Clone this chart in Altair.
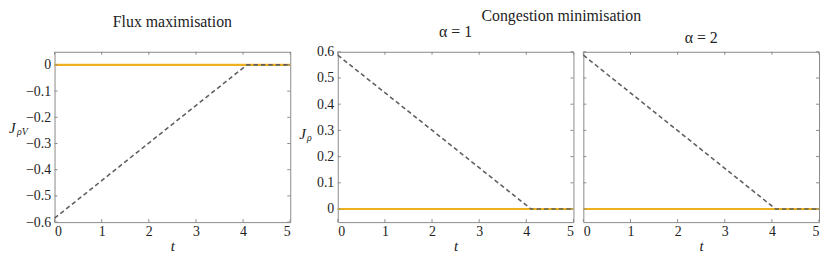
import altair as alt
import pandas as pd

# ---- data ----
t_ticks = [0, 1, 2, 3, 4, 5]
flux_yticks = [-0.6, -0.5, -0.4, -0.3, -0.2, -0.1, 0]
cong_yticks = [0, 0.1, 0.2, 0.3, 0.4, 0.5, 0.6]

flux_t = [0, 4.08, 5]
flux_J = [-0.585, 0, 0]
cong1_t = [0, 4.10, 5]
cong1_J = [0.587, 0, 0]
cong2_t = [0, 4.08, 5]
cong2_J = [0.587, 0, 0]
opt_t = [0, 5]
opt_J = [0, 0]

W, H = 238, 172
FONT = "Liberation Serif"
FRAME = "#8a8a8a"
ORANGE = "#EDB120"
GREY = "#606060"
TL = 3


def panel(dt, dJ, ydom, yticks, show_labels, ymain, ysub, yx, ybase, title, toff):
    xs = alt.Scale(domain=[0, 5], nice=False, zero=False)
    ys = alt.Scale(domain=ydom, nice=False, zero=False)
    xax = alt.Axis(values=t_ticks, ticks=False, domain=False, grid=False,
                   labelOverlap=False, labelPadding=3, title="t",
                   titleFontStyle="italic", titlePadding=0)
    yax = alt.Axis(values=yticks, ticks=False, domain=False, grid=False,
                   labels=show_labels, format="~g", labelOverlap=False,
                   labelPadding=4, title=None)

    def X(f="t"):
        return alt.X(f + ":Q", scale=xs, axis=xax)

    def Y(f="J"):
        return alt.Y(f + ":Q", scale=ys, axis=yax)

    opt = pd.DataFrame({"t": opt_t, "J": opt_J})
    dash = pd.DataFrame({"t": dt, "J": dJ})
    xt = pd.DataFrame({"t": t_ticks})
    yt = pd.DataFrame({"J": yticks})
    one = pd.DataFrame({"a": [0]})

    orange = alt.Chart(opt).mark_line(color=ORANGE, strokeWidth=2.2).encode(
        x=X(), y=Y())
    dashed = alt.Chart(dash).mark_line(color=GREY, strokeWidth=1.6,
                                       strokeDash=[4.5, 3]).encode(
        x=X(), y=Y())
    tb = alt.Chart(xt).mark_rule(color=FRAME, strokeWidth=1).encode(
        x=X(), y=alt.value(H), y2=alt.value(H - TL))
    tt = alt.Chart(xt).mark_rule(color=FRAME, strokeWidth=1).encode(
        x=X(), y=alt.value(0), y2=alt.value(TL))
    tlft = alt.Chart(yt).mark_rule(color=FRAME, strokeWidth=1).encode(
        y=Y(), x=alt.value(0), x2=alt.value(TL))
    trgt = alt.Chart(yt).mark_rule(color=FRAME, strokeWidth=1).encode(
        y=Y(), x=alt.value(W), x2=alt.value(W - TL))
    layers = [orange, tb, tt, tlft, trgt, dashed]
    if ymain:
        layers.append(alt.Chart(one).mark_text(
            text=ymain, font=FONT, fontSize=15, fontStyle="italic",
            align="left", baseline="alphabetic", color="#222").encode(
            x=alt.value(yx), y=alt.value(ybase)))
        layers.append(alt.Chart(one).mark_text(
            text=ysub, font=FONT, fontSize=10, fontStyle="italic",
            align="left", baseline="alphabetic", color="#222").encode(
            x=alt.value(yx + 8), y=alt.value(ybase + 2)))
    return alt.layer(*layers).properties(
        width=W, height=H,
        title=alt.TitleParams(title, font=FONT, fontSize=16,
                              fontWeight="normal", color="#222",
                              anchor="middle", offset=toff))


p1 = panel(flux_t, flux_J, [-0.6, 0.05], flux_yticks, True,
           "J", "ρV", -46, 82, "Flux maximisation", 22)
p2 = panel(cong1_t, cong1_J, [-0.05, 0.6], cong_yticks, True,
           "J", "ρ", -39, 88, "α = 1", 5)
p3 = panel(cong2_t, cong2_J, [-0.05, 0.6], cong_yticks, False,
           None, None, 0, 0, "α = 2", 5)

inner = alt.hconcat(p2, p3, spacing=10, bounds="flush",
                    title=alt.TitleParams("Congestion minimisation", font=FONT,
                                          fontSize=16, fontWeight="normal",
                                          color="#222", anchor="middle",
                                          offset=0))

chart = alt.hconcat(p1, inner, spacing=48, bounds="flush").properties(
    padding={"left": 0, "top": -2, "right": -2, "bottom": 0}
).configure_view(stroke=FRAME, strokeWidth=1).configure_axis(
    labelFont=FONT, labelFontSize=14, labelColor="#222",
    titleFont=FONT, titleFontSize=15, titleFontWeight="normal",
    titleColor="#222")

chart.save("out.html", embed_options={"renderer": "svg", "actions": False})
